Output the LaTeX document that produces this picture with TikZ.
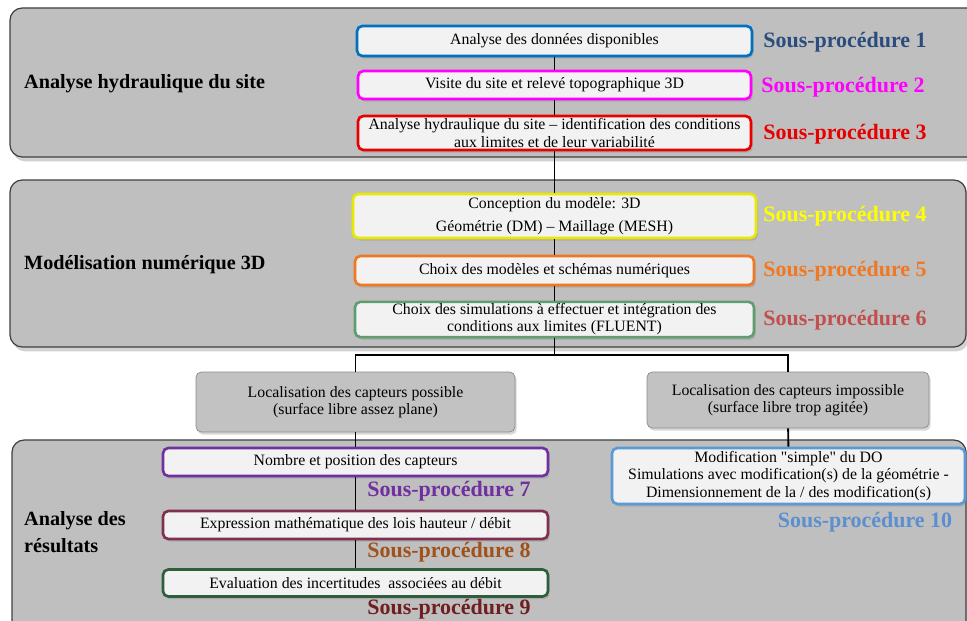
\documentclass[tikz,border=0pt]{standalone}
\usepackage{fontspec}
\setmainfont{Liberation Serif}
\usetikzlibrary{shadows}
\definecolor{panelgris}{HTML}{BFBFBF}
\definecolor{boxgris}{HTML}{F2F2F2}
\definecolor{locgris}{HTML}{C2C2C2}
\definecolor{sp1}{HTML}{2B4D7E}
\definecolor{bord1}{HTML}{0070C0}
\definecolor{sp2}{HTML}{FF00FF}
\definecolor{sp3}{HTML}{E80000}
\definecolor{sp4}{HTML}{FFFF00}
\definecolor{bord4}{HTML}{E8E800}
\definecolor{sp5}{HTML}{F07822}
\definecolor{bord6}{HTML}{5E9E6E}
\definecolor{sp6}{HTML}{C0504D}
\definecolor{sp7}{HTML}{7030A0}
\definecolor{bord8}{HTML}{7F2F4F}
\definecolor{sp8}{HTML}{A0521A}
\definecolor{bord9}{HTML}{2E5E3E}
\definecolor{sp9}{HTML}{6F1F1F}
\definecolor{bord10}{HTML}{5B9BD5}
\definecolor{sp10}{HTML}{5B8FD0}
\tikzset{
  panneau/.style={draw=black!75,line width=0.7pt,fill=panelgris,rounded corners=7pt,
    drop shadow={shadow xshift=1.5pt,shadow yshift=-2.5pt,opacity=0.35}},
  titre/.style={anchor=west,font=\fontsize{11.5}{15}\selectfont\bfseries,align=left},
  etape/.style={draw,line width=1.5pt,fill=boxgris,rounded corners=3pt,align=center,
    inner sep=1pt,font=\fontsize{9}{9.8}\selectfont,
    drop shadow={shadow xshift=1pt,shadow yshift=-1.5pt,opacity=0.3}},
  loc/.style={draw=black!45,fill=locgris,rounded corners=3pt,align=center,
    font=\fontsize{9}{9.8}\selectfont,
    drop shadow={shadow xshift=1pt,shadow yshift=-1.5pt,opacity=0.3}},
  sousproc/.style={font=\fontsize{12.5}{14}\selectfont\bfseries},
  lien/.style={line width=1.1pt,black}
}
\begin{document}
\begin{tikzpicture}[x=0.02cm,y=-0.02cm]
        \clip (0,0) rectangle (967,621);
        \fill[white] (0,0) rectangle (967,621);
        %panneaux de fond
        \path[panneau] (10,8) rectangle (980,157);
        \path[panneau] (10,180) rectangle (966,347);
        \path[panneau] (12,440) rectangle (966,650);
        %titres des panneaux
        \node[titre] (t1) at (18,84) {Analyse hydraulique du site};
        \node[titre] (t2) at (18,265) {Modélisation numérique 3D};
        \node[titre] (t3) at (18,532) {Analyse des\\résultats};
        %etapes hydraulique
        \node[etape,draw=bord1,minimum width=7.9cm,minimum height=0.6cm] (b1) at (554.5,41) {Analyse des données disponibles};
        \node[etape,draw=sp2,minimum width=7.86cm,minimum height=0.56cm] (b2) at (554.5,85) {Visite du site et relevé topographique 3D};
        \node[etape,draw=sp3,minimum width=7.86cm,minimum height=0.68cm] (b3) at (554.5,133) {Analyse hydraulique du site -- identification des conditions\\aux limites et de leur variabilité};
        %etapes modelisation
        \node[etape,draw=bord4,minimum width=8.06cm,minimum height=0.88cm] (b4) at (554.5,216) {Conception du modèle: 3D\\[3pt]Géométrie (DM) -- Maillage (MESH)};
        \node[etape,draw=sp5,minimum width=7.98cm,minimum height=0.58cm] (b5) at (554.5,270.5) {Choix des modèles et schémas numériques};
        \node[etape,draw=bord6,minimum width=7.98cm,minimum height=0.7cm] (b6) at (554.5,319.5) {Choix des simulations à effectuer et intégration des\\conditions aux limites (FLUENT)};
        %localisation
        \node[loc,minimum width=6.38cm,minimum height=1.2cm] (locp) at (355.5,402) {Localisation des capteurs possible\\(surface libre assez plane)};
        \node[loc,minimum width=5.64cm,minimum height=1.12cm] (loci) at (788,400) {Localisation des capteurs impossible\\(surface libre trop agitée)};
        %etapes resultats
        \node[etape,draw=sp7,minimum width=7.7cm,minimum height=0.56cm] (b7) at (355.5,462) {Nombre et position des capteurs};
        \node[etape,draw=bord8,minimum width=7.7cm,minimum height=0.56cm] (b8) at (355.5,525) {Expression mathématique des lois hauteur / débit};
        \node[etape,draw=bord9,minimum width=7.7cm,minimum height=0.54cm] (b9) at (355.5,583) {Evaluation des incertitudes\ \ associées au débit};
        \node[etape,draw=bord10,minimum width=7.06cm,minimum height=1.12cm] (b10) at (788.5,476) {Modification \textquotedbl simple\textquotedbl{} du DO\\Simulations avec modification(s) de la géométrie -\\Dimensionnement de la / des modification(s)};
        %sous-procedures
        \node[sousproc,text=sp1] (s1) at (845,42) {Sous-procédure 1};
        \node[sousproc,text=sp2] (s2) at (843,87) {Sous-procédure 2};
        \node[sousproc,text=sp3] (s3) at (845,134) {Sous-procédure 3};
        \node[sousproc,text=sp4] (s4) at (845,216) {Sous-procédure 4};
        \node[sousproc,text=sp5] (s5) at (845,271) {Sous-procédure 5};
        \node[sousproc,text=sp6] (s6) at (845,320) {Sous-procédure 6};
        \node[sousproc,text=sp7] (s7) at (449,491) {Sous-procédure 7};
        \node[sousproc,text=sp8] (s8) at (449,552) {Sous-procédure 8};
        \node[sousproc,text=sp9] (s9) at (449,609) {Sous-procédure 9};
        \node[sousproc,text=sp10] (s10) at (865,522) {Sous-procédure 10};
        %liens
        \coordinate (split) at (554.5,355);
        \draw[lien] (b1) -- (b2);
        \draw[lien] (b2) -- (b3);
        \draw[lien] (b3) -- (b4);
        \draw[lien] (b4) -- (b5);
        \draw[lien] (b5) -- (b6);
        \draw[lien] (b6) -- (split);
        \draw[lien] (locp.north) -- (locp.north |- split) -- (loci.north |- split) -- (loci.north);
        \draw[lien] (locp) -- (b7);
        \draw[lien] (b7) -- (b8);
        \draw[lien] (b8) -- (b9);
        \draw[lien] (loci) -- (b10);
    \end{tikzpicture}
\end{document}
